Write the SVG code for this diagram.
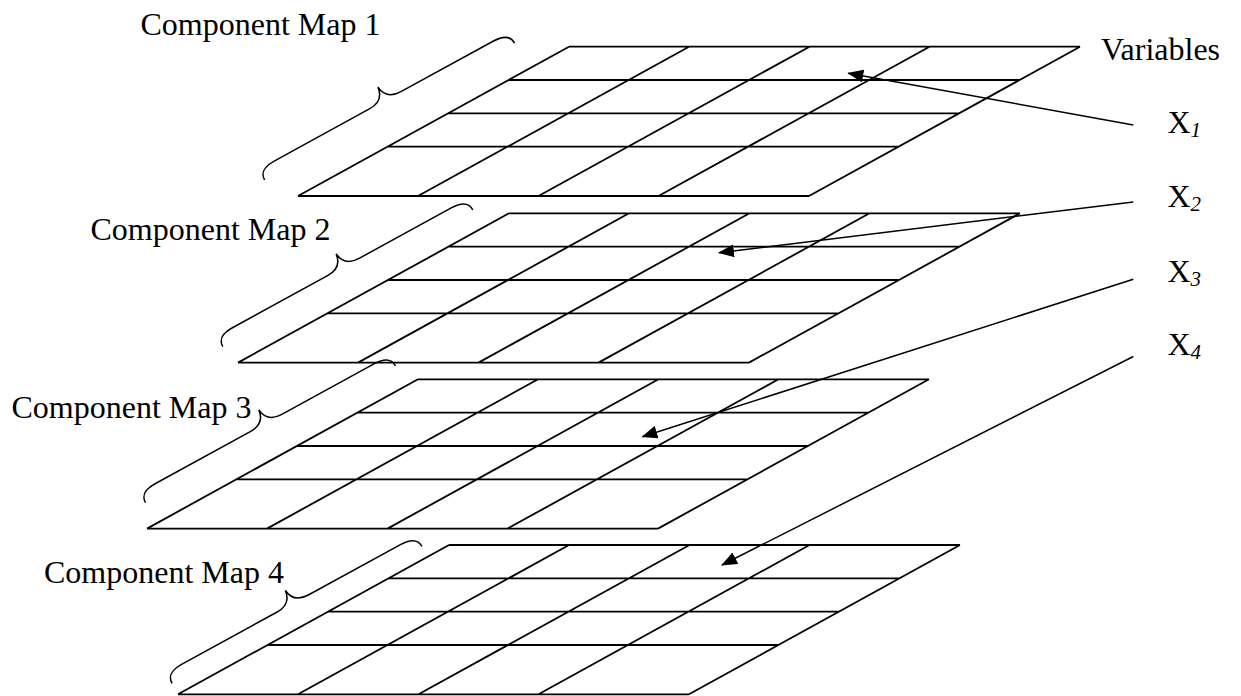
<svg xmlns="http://www.w3.org/2000/svg" width="1241" height="696" viewBox="0 0 1241 696">
  <style>
    .grid { fill: none; stroke: #000; stroke-width: 1.8; }
    .brace { fill: none; stroke: #000; stroke-width: 1.5; }
    .lbl { font-family: "Liberation Serif", "Times New Roman", serif; font-size: 32px; fill: #000; }
    .sub { font-size: 21px; font-style: italic; }
    .conn { fill: none; stroke: #000; stroke-width: 1.5; marker-end: url(#ah); }
  </style>
  <defs>
    <!-- 4x4 sheared grid, top-left corner at the origin -->
    <path id="grid" d="M0,0 H511 M-60.4,33.3 H450.6 M-121.1,66.7 H389.9 M-181.5,100 H329.5 M-271,149.3 H240
                       M0,0 L-271,149.3 M120,0 L-151,149.3 M240.5,0 L-30.5,149.3 M360.5,0 L89.5,149.3 M511,0 L240,149.3"/>
    <!-- curly brace laid along the x axis, cusp pointing to negative y -->
    <path id="brace" d="M0,0 C0,-8 5,-12 18,-12 L126,-12 C137,-12 143,-17 144,-27 C145,-17 151,-12 162,-12 L267,-12 C280,-12 285,-7 285,0"/>
    <marker id="ah" viewBox="0 0 16 13" refX="15" refY="6.5" markerWidth="16" markerHeight="13" markerUnits="userSpaceOnUse" orient="auto">
      <path d="M0,0 L16,6.5 L0,13 Z" fill="#000"/>
    </marker>
  </defs>

  <rect width="1241" height="696" fill="#fff"/>

  <g id="map1">
    <use href="#grid" class="grid" transform="translate(569,46.7)"/>
    <use href="#brace" class="brace" transform="translate(264.6,180) rotate(-28.7)"/>
    <text class="lbl" x="140.5" y="35">Component Map 1</text>
  </g>

  <g id="map2">
    <use href="#grid" class="grid" transform="translate(509,213.3)"/>
    <use href="#brace" class="brace" transform="translate(222.8,346.7) rotate(-28.7)"/>
    <text class="lbl" x="90.5" y="240">Component Map 2</text>
  </g>

  <g id="map3">
    <use href="#grid" class="grid" transform="translate(418,379.3)"/>
    <use href="#brace" class="brace" transform="translate(145.5,502.7) rotate(-28.7)"/>
    <text class="lbl" x="11.5" y="418.3">Component Map 3</text>
  </g>

  <g id="map4">
    <use href="#grid" class="grid" transform="translate(449,545)"/>
    <use href="#brace" class="brace" transform="translate(172,683.3) rotate(-28.7)"/>
    <text class="lbl" x="44" y="583.3">Component Map 4</text>
  </g>

  <g id="variables">
    <text class="lbl" x="1101" y="59.5">Variables</text>
    <text class="lbl" x="1167.5" y="133.3">X<tspan class="sub" dy="4">1</tspan></text>
    <text class="lbl" x="1167.5" y="206.7">X<tspan class="sub" dy="4">2</tspan></text>
    <text class="lbl" x="1167.5" y="281.5">X<tspan class="sub" dy="4">3</tspan></text>
    <text class="lbl" x="1167.5" y="355">X<tspan class="sub" dy="4">4</tspan></text>
  </g>

  <g id="connectors">
    <line class="conn" x1="1133.3" y1="125" x2="848.3" y2="73.3"/>
    <line class="conn" x1="1133.3" y1="202" x2="719" y2="252.7"/>
    <line class="conn" x1="1133.3" y1="279.3" x2="642.4" y2="436.7"/>
    <line class="conn" x1="1133.3" y1="356.5" x2="722" y2="565"/>
  </g>
</svg>
